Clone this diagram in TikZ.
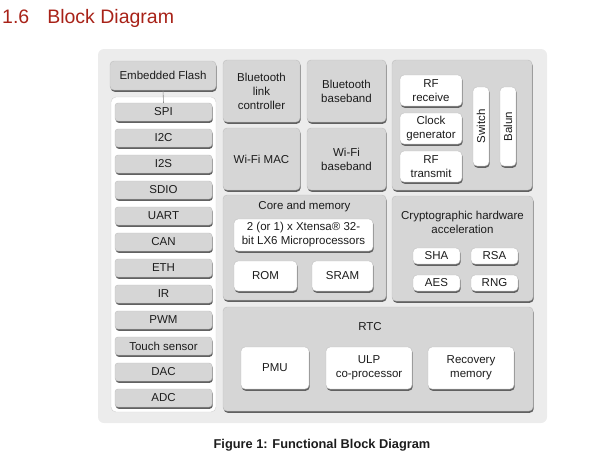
\documentclass[tikz,border=0pt]{standalone}
\usepackage{fontspec}
\setmainfont{Liberation Sans}
\usepackage{xcolor}
\definecolor{esp_red}{RGB}{168,34,24}
\definecolor{esp_panel}{RGB}{236,236,236}
\definecolor{esp_block}{RGB}{214,214,214}
\definecolor{esp_text}{RGB}{28,28,28}
\usetikzlibrary{shadows}

\begin{document}
\begin{tikzpicture}[x=1pt, y=-1pt,
    font=\fontsize{11.5}{14}\selectfont, text=esp_text,
    bloc/.style={draw=black!25, line width=0.4pt, fill=esp_block,
      rounded corners=4pt, inner sep=0pt, align=center,
      drop shadow={shadow xshift=0.7pt, shadow yshift=-1.8pt,
        fill=black!62, opacity=1}},
    blanc/.style={bloc, fill=white},
    petit/.style={bloc, rounded corners=3pt}]
        \useasboundingbox (0,0) rectangle (595,461);
        % Titre
        \node[anchor=base west, inner sep=0pt, text=esp_red,
          font=\fontsize{19.5}{22}\selectfont] (titre) at (2,23)
          {1.6\hspace{18pt}Block Diagram};
        % Fond
        \fill[esp_panel, rounded corners=6pt] (98,49) rectangle (547,423);
        \draw[black!18, fill=white, rounded corners=5pt] (111,97) rectangle (216,412);
        % Flash et interfaces
        \node[bloc, minimum width=106pt, minimum height=29pt] (flash) at (163,75.5) {Embedded Flash};
        \foreach \nom [count=\i from 0] in {SPI,I2C,I2S,SDIO,UART,CAN,ETH,IR,PWM,Touch sensor,DAC,ADC}
          \node[petit, minimum width=97pt, minimum height=18pt] (if\i) at (163.5,{112+26*\i}) {\nom};
        \draw[black!45, line width=0.6pt] (flash.south) -- (if0.north);
        % Bluetooth et Wi-Fi
        \node[bloc, minimum width=77pt, minimum height=62pt] (btlink) at (261.5,91) {Bluetooth\\link\\controller};
        \node[bloc, minimum width=77pt, minimum height=62pt] (wifimac) at (261.5,159) {Wi-Fi MAC};
        \node[bloc, minimum width=79pt, minimum height=62pt] (btbase) at (346.5,91) {Bluetooth\\baseband};
        \node[bloc, minimum width=79pt, minimum height=62pt] (wifibase) at (346.5,159) {Wi-Fi\\baseband};
        % Radio
        \node[bloc, minimum width=140pt, minimum height=130pt] (rf) at (462,125) {};
        \node[blanc, minimum width=62pt, minimum height=31pt] (rfrx) at (431,90.5) {RF\\receive};
        \node[blanc, minimum width=62pt, minimum height=31pt] (clock) at (431,128.5) {Clock\\generator};
        \node[blanc, minimum width=62pt, minimum height=31pt] (rftx) at (431,166.5) {RF\\transmit};
        \node[blanc, rotate=90, minimum width=79pt, minimum height=16pt] (switch) at (481,126.5) {Switch};
        \node[blanc, rotate=90, minimum width=79pt, minimum height=16pt] (balun) at (508,126.5) {Balun};
        % Coeur et memoire
        \node[bloc, minimum width=163pt, minimum height=105pt] (core) at (304.5,247.5) {};
        \node[inner sep=0pt] (coretitre) at (304.5,207) {Core and memory};
        \node[blanc, minimum width=139pt, minimum height=32pt] (cpu) at (303.5,235) {2 (or 1) x Xtensa® 32-\\bit LX6 Microprocessors};
        \node[blanc, minimum width=63pt, minimum height=30pt] (rom) at (265.5,276) {ROM};
        \node[blanc, minimum width=61pt, minimum height=30pt] (sram) at (342.5,276) {SRAM};
        % Crypto
        \node[bloc, minimum width=141pt, minimum height=105pt] (crypto) at (462.5,248.5) {};
        \node[inner sep=0pt, align=center] (cryptotitre) at (462.5,222) {Cryptographic hardware\\acceleration};
        \node[blanc, minimum width=47pt, minimum height=16pt] (sha) at (436.5,256) {SHA};
        \node[blanc, minimum width=47pt, minimum height=16pt] (rsa) at (494.5,256) {RSA};
        \node[blanc, minimum width=47pt, minimum height=16pt] (aes) at (436.5,283) {AES};
        \node[blanc, minimum width=47pt, minimum height=16pt] (rng) at (494.5,283) {RNG};
        % RTC
        \node[bloc, minimum width=310pt, minimum height=104pt] (rtc) at (378,359) {};
        \node[inner sep=0pt] (rtctitre) at (370,327) {RTC};
        \node[blanc, minimum width=68pt, minimum height=42pt] (pmu) at (275,368) {PMU};
        \node[blanc, minimum width=86pt, minimum height=42pt] (ulp) at (369,368) {ULP\\co-processor};
        \node[blanc, minimum width=86pt, minimum height=42pt] (recovery) at (471,368) {Recovery\\memory};
        % Legende
        \node[anchor=base, inner sep=0pt, font=\fontsize{12.8}{15}\selectfont\bfseries] (legende) at (322,448)
          {Figure 1: Functional Block Diagram};
      \end{tikzpicture}
\end{document}
